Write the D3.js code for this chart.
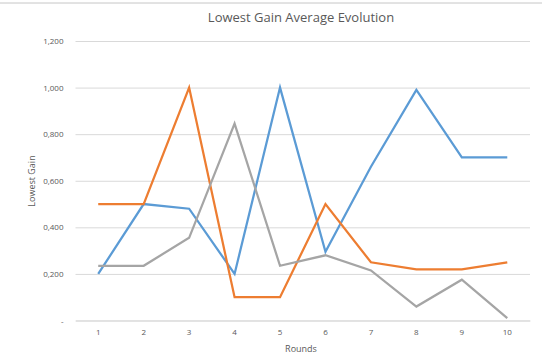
<!DOCTYPE html>
<html><head><meta charset="utf-8">
<script src="https://cdn.jsdelivr.net/npm/d3@7"></script>
<style>body{margin:0;background:#fff}svg{display:block}text{font-family:"Open Sans",sans-serif}</style>
</head><body>
<svg id="c" width="542" height="358"></svg>
<script>
const rounds = [1,2,3,4,5,6,7,8,9,10];
const seriesBlue   = [0.20,0.50,0.48,0.20,1.00,0.295,0.66,0.99,0.70,0.70];
const seriesOrange = [0.50,0.50,1.00,0.10,0.10,0.50,0.25,0.22,0.22,0.25];
const seriesGray   = [0.235,0.235,0.355,0.845,0.235,0.28,0.215,0.06,0.175,0.01];
const yTicks = [0,0.2,0.4,0.6,0.8,1.0,1.2];
const yTickLabels = ["-","0,200","0,400","0,600","0,800","1,000","1,200"];
const colors = ["#5B9BD5","#ED7D31","#A5A5A5"];

const svg = d3.select("#c");
const L = 75.5, R = 530, T = 41, B = 320.5;
const x = d3.scaleBand().domain(rounds).range([L,R]);
const y = d3.scaleLinear().domain([0,1.2]).range([B,T]);

svg.append("line").attr("x1",0).attr("x2",542).attr("y1",3).attr("y2",3)
  .attr("stroke","#c6c6c6").attr("stroke-width",1);

svg.append("text").attr("x",301).attr("y",22).attr("text-anchor","middle")
  .attr("fill","#595959").style("font-size","13px").text("Lowest Gain Average Evolution");

const yAxis = d3.axisLeft(y).tickValues(yTicks).tickSize(-(R-L)).tickPadding(12)
  .tickFormat((d,i)=>yTickLabels[i]);
const gy = svg.append("g").attr("transform",`translate(${L},0)`).call(yAxis);
gy.select(".domain").remove();
gy.selectAll(".tick line").attr("stroke","#d9d9d9").attr("stroke-width",1);
gy.selectAll(".tick text").attr("fill","#595959").style("font-size","8px");

const xAxis = d3.axisBottom(x).tickSize(0).tickPadding(9);
const gx = svg.append("g").attr("transform",`translate(0,${B})`).call(xAxis);
gx.select(".domain").attr("stroke","#d9d9d9");
gx.selectAll(".tick text").attr("fill","#595959").style("font-size","8px");

svg.append("text").attr("x",301).attr("y",352).attr("text-anchor","middle")
  .attr("fill","#595959").style("font-size","9px").text("Rounds");
svg.append("text").attr("transform","translate(35,181) rotate(-90)").attr("text-anchor","middle")
  .attr("fill","#595959").style("font-size","9px").text("Lowest Gain");

const line = d3.line().x((d,i)=>x(rounds[i])+x.bandwidth()/2).y(d=>y(d));
[seriesBlue,seriesOrange,seriesGray].forEach((s,k)=>{
  svg.append("path").datum(s).attr("d",line).attr("fill","none")
    .attr("stroke",colors[k]).attr("stroke-width",2.25).attr("stroke-linejoin","miter");
});
</script>
</body></html>
